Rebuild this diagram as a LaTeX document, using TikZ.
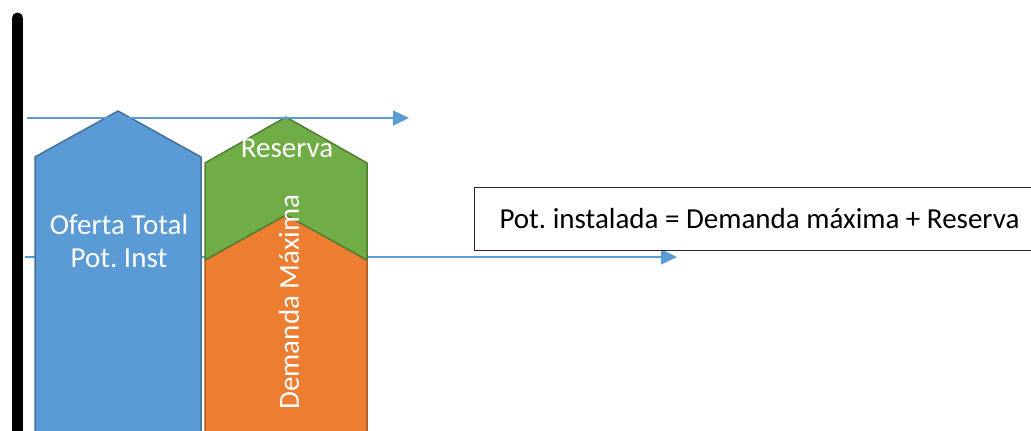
\documentclass[tikz,border=0pt]{standalone}
\usepackage{fontspec}
\setmainfont{Carlito}
\usetikzlibrary{arrows.meta, positioning}
\definecolor{cblue}{HTML}{5B9BD5}
\definecolor{cblueline}{HTML}{41719C}
\definecolor{cgreen}{HTML}{70AD47}
\definecolor{cgreenline}{HTML}{507E32}
\definecolor{corange}{HTML}{ED7D31}
\definecolor{corangeline}{HTML}{AE5A21}
\frenchspacing
\tikzset{
  every picture/.style={x=1pt, y=-1pt},
  bar/.style={fill=#1, draw=#1line, line width=1.5pt, line join=round},
  level/.style={-{Triangle[length=16pt, width=15pt]}, draw=cblue, line width=1.5pt},
  inbar/.style={text=white, font=\fontsize{29}{33}\selectfont, align=center, inner sep=0pt},
  formula/.style={draw=black!85, line width=1pt, font=\fontsize{29}{34}\selectfont,
    minimum width=570pt, minimum height=63pt, anchor=north west, inner sep=0pt},
}

\begin{document}
\begin{tikzpicture}
  \useasboundingbox (0,0) rectangle (1031,431);
  \clip (0,0) rectangle (1031,431);
  \coordinate (top0) at (27,118);  \coordinate (top1) at (409,118);
  \coordinate (dem0) at (25,257);  \coordinate (dem1) at (677,257);
  % demand level, behind the bars
  \draw[level] (dem0) -- (dem1);
  % (a) installed power
  \draw[bar=cblue] (35,445) -- (35,157) -- (118,111) -- (201,157) -- (201,445);
  % (b) peak demand + reserve
  \draw[bar=corange] (205,445) -- (205,260) -- (286,215) -- (367,260) -- (367,445);
  \draw[bar=cgreen] (205,260) -- (205,163) -- (286,117) -- (367,163) -- (367,260) -- (286,215) -- cycle;
  % installed level, on top
  \draw[level] (top0) -- (top1);
  \node[inbar] (oferta) at (119,241) {Oferta Total\\Pot. Inst};
  \node[inbar] (reserva) at (287,148) {Reserva};
  \node[inbar, rotate=90] (demanda) at (289,302) {Demanda Máxima};
  \node[formula] (igualdad) at (474,187) {Pot. instalada = Demanda máxima + Reserva};
  % vertical axis
  \draw[line width=11pt, line cap=round] (17.5,18) -- (17.5,445);
\end{tikzpicture}
\end{document}
